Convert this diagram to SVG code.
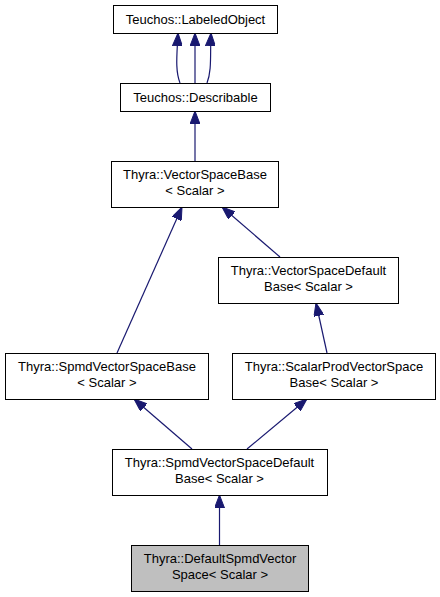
<svg xmlns="http://www.w3.org/2000/svg" width="440" height="597" viewBox="0 0 440 597">
<style>
.n rect{fill:#ffffff;stroke:#000000;stroke-width:1}
.n text{font-family:"Liberation Sans",Arial,sans-serif;font-size:13px;fill:#000000;text-anchor:middle}
.e path{fill:none;stroke:#191970;stroke-width:1.2;marker-end:url(#a)}
</style>
<defs>
<marker id="a" viewBox="0 0 13 10" refX="13" refY="5" markerWidth="13" markerHeight="10" markerUnits="userSpaceOnUse" orient="auto">
<path d="M0,0 L13,5 L0,10 z" fill="#191970" stroke="#191970"/>
</marker>
</defs>
<rect width="440" height="597" fill="#ffffff"/>
<g class="e" id="connectors">
<path d="M180,83 C175,70 177,55 178,33"/>
<path d="M195,83 L195,33"/>
<path d="M207,83 C212,70 210,55 211,33"/>
<path d="M195,161 L195,111"/>
<path d="M117,353 L182,207"/>
<path d="M280,257 L222,207"/>
<path d="M327,353 L316,303"/>
<path d="M192,449 L134,399"/>
<path d="M247,449 L307,399"/>
<path d="M219.5,545 L219.5,495"/>
</g>
<g class="n" id="labeledobject">
<rect x="113.5" y="5.5" width="164" height="28"/>
<text x="195.5" y="24">Teuchos::LabeledObject</text>
</g>
<g class="n" id="describable">
<rect x="120.5" y="83.5" width="150" height="28"/>
<text x="195.5" y="102">Teuchos::Describable</text>
</g>
<g class="n" id="vectorspacebase">
<rect x="111.5" y="161.5" width="167" height="46"/>
<text x="195" y="179">Thyra::VectorSpaceBase</text>
<text x="195" y="195">&lt; Scalar &gt;</text>
</g>
<g class="n" id="vectorspacedefaultbase">
<rect x="218.5" y="257.5" width="180" height="46"/>
<text x="308.5" y="275">Thyra::VectorSpaceDefault</text>
<text x="308.5" y="291">Base&lt; Scalar &gt;</text>
</g>
<g class="n" id="spmdvectorspacebase">
<rect x="5.5" y="353.5" width="203" height="46"/>
<text x="107" y="371">Thyra::SpmdVectorSpaceBase</text>
<text x="107" y="387">&lt; Scalar &gt;</text>
</g>
<g class="n" id="scalarprodvectorspacebase">
<rect x="232.5" y="353.5" width="203" height="46"/>
<text x="334" y="371">Thyra::ScalarProdVectorSpace</text>
<text x="334" y="387">Base&lt; Scalar &gt;</text>
</g>
<g class="n" id="spmdvectorspacedefaultbase">
<rect x="112.5" y="449.5" width="215" height="46"/>
<text x="219.5" y="467">Thyra::SpmdVectorSpaceDefault</text>
<text x="219.5" y="483">Base&lt; Scalar &gt;</text>
</g>
<g class="n" id="defaultspmdvectorspace">
<rect x="131.5" y="545.5" width="177" height="46" style="fill:#bfbfbf"/>
<text x="220" y="563">Thyra::DefaultSpmdVector</text>
<text x="220" y="579">Space&lt; Scalar &gt;</text>
</g>
</svg>
